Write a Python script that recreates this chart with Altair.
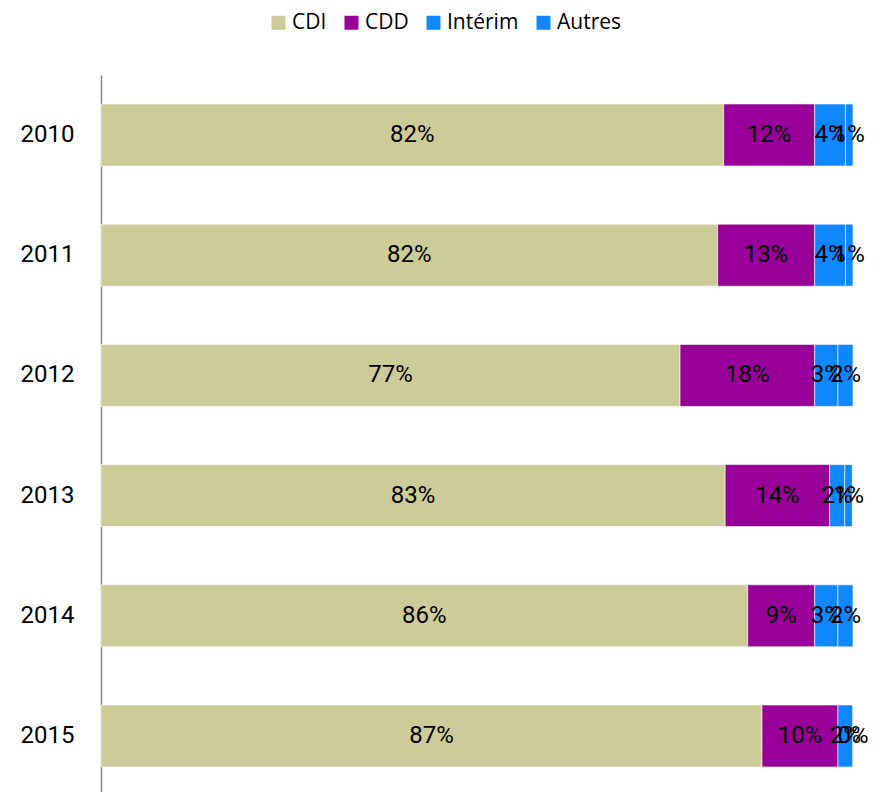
import altair as alt
import pandas as pd

years = ["2010", "2011", "2012", "2013", "2014", "2015"]
categories = ["CDI", "CDD", "Intérim", "Autres"]
colors = ["#CCCC99", "#990099", "#0F87FF", "#0F87FF"]

cdi = [82.8, 82.0, 77.0, 83.0, 86.0, 87.9]
cdd = [12.1, 12.9, 17.9, 13.9, 8.9, 10.1]
interim = [4.1, 4.1, 3.1, 2.0, 3.1, 2.0]
autres = [1.0, 1.0, 2.0, 1.0, 2.0, 0.0]

cdi_labels = ["82%", "82%", "77%", "83%", "86%", "87%"]
cdd_labels = ["12%", "13%", "18%", "14%", "9%", "10%"]
interim_labels = ["4%", "4%", "3%", "2%", "3%", "2%"]
autres_labels = ["1%", "1%", "2%", "1%", "2%", "0%"]

rows = []
series = [cdi, cdd, interim, autres]
labels = [cdi_labels, cdd_labels, interim_labels, autres_labels]
for i, yr in enumerate(years):
    for k, cat in enumerate(categories):
        rows.append({"year": yr, "cat": cat, "order": k,
                     "value": series[k][i], "label": labels[k][i]})
df = pd.DataFrame(rows)

LABEL_FONT = "Roboto"
LEGEND_FONT = "Open Sans"

base = alt.Chart(df).transform_window(
    cum="sum(value)",
    groupby=["year"],
    sort=[alt.SortField("order")],
    frame=[None, 0],
).transform_calculate(
    start="datum.cum - datum.value",
    mid="datum.cum - datum.value / 2",
)

y_enc = alt.Y(
    "year:N",
    sort=years,
    scale=alt.Scale(paddingInner=0.484, paddingOuter=0.241, range=[0, 721]),
    axis=alt.Axis(
        title=None, ticks=False, domainColor="#868686", domainWidth=1.5,
        labelFontSize=24, labelFont=LABEL_FONT, labelColor="black", labelPadding=27,
    ),
)

x_scale = alt.Scale(domain=[0, 100], nice=False, zero=True)

bars = base.mark_bar(stroke="white", strokeWidth=0.6).encode(
    x=alt.X("start:Q", scale=x_scale, axis=None),
    x2="cum:Q",
    y=y_enc,
    color=alt.Color(
        "cat:N",
        scale=alt.Scale(domain=categories, range=colors),
        legend=alt.Legend(
            title=None, orient="none", legendX=167, legendY=-63,
            direction="horizontal", symbolType="square", symbolSize=196,
            symbolStrokeWidth=0, labelFontSize=21, labelFont=LEGEND_FONT,
            labelColor="black", columnPadding=14, labelOffset=3,
        ),
    ),
)

texts = base.mark_text(fontSize=24, font=LABEL_FONT, color="black").encode(
    x=alt.X("mid:Q", scale=x_scale, axis=None),
    y=alt.Y("year:N", sort=years),
    text="label:N",
)

chart = alt.layer(bars, texts).properties(
    width=752,
    height=717,
    autosize=alt.AutoSizeParams(type="none"),
    padding={"left": 93, "top": 67, "right": 18, "bottom": 0},
).configure_view(stroke=None)

chart.save("out.html", embed_options={"renderer": "svg", "actions": False})
